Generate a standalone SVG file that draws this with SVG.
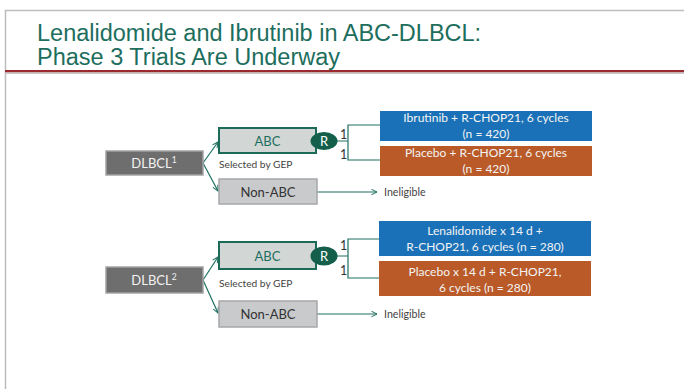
<svg xmlns="http://www.w3.org/2000/svg" width="684" height="389" viewBox="0 0 684 389">
  <style>
    .title { font-family: "Liberation Sans", Arial, sans-serif; font-size: 23.5px; fill: #1d6e5d; }
    .lbl { font-family: Lato, "Open Sans", sans-serif; }
    .dlbcl rect { fill: #6e6e6e; stroke: #a3a3a3; stroke-width: 1.5; }
    .dlbcl text { fill: #f2f2f2; font-size: 13px; text-anchor: middle; }
    .abc rect { fill: #d2d7d5; stroke: #1b6b58; stroke-width: 2; }
    .abc text { fill: #1d6e5d; font-size: 13px; text-anchor: middle; }
    .non rect { fill: #c9cacc; stroke: #a6a7a9; stroke-width: 1.5; }
    .non text { fill: #333; font-size: 13px; text-anchor: middle; }
    .rnd ellipse { fill: #145f4c; }
    .rnd text { fill: #fff; font-size: 13px; text-anchor: middle; }
    .arm text { fill: #f4f4f4; font-size: 12px; text-anchor: middle; }
    .blue { fill: #1a71b8; }
    .orange { fill: #b95a28; }
    .small { fill: #444; font-size: 10.2px; }
    .inel { fill: #444; font-size: 10.6px; }
    .ratio { fill: #333; font-size: 12.5px; }
    .conn { fill: none; stroke: #1e7060; stroke-width: 1.2; }
  </style>
  <defs>
    <marker id="chev" viewBox="0 0 10 10" refX="9" refY="5" markerWidth="7" markerHeight="7" markerUnits="userSpaceOnUse" orient="auto">
      <path d="M1,1 L9,5 L1,9" fill="none" stroke="#1e7060" stroke-width="1.4"/>
    </marker>
  </defs>

  <rect width="684" height="389" fill="#fff"/>

  <!-- slide frame and title -->
  <g id="frame">
    <path d="M684,10.5 H5.5 V389" fill="none" stroke="#bdbdbd" stroke-width="1.5"/>
    <rect x="5" y="70" width="679" height="2.5" fill="#9b2a2e"/>
    <rect x="5" y="72.5" width="679" height="1.5" fill="#c9c9c9"/>
    <text class="title" x="37" y="41">Lenalidomide and Ibrutinib in ABC-DLBCL:</text>
    <text class="title" x="37" y="65">Phase 3 Trials Are Underway</text>
  </g>

  <!-- connectors -->
  <g id="connectors">
    <path class="conn" d="M203,163 L218,142" marker-end="url(#chev)"/>
    <path class="conn" d="M203,163 L218,191" marker-end="url(#chev)"/>
    <path class="conn" d="M317,192 H377" marker-end="url(#chev)"/>
    <path class="conn" d="M337,141 H348 M380,125 H348 V160 H380"/>

    <path class="conn" d="M203,280 L218,257" marker-end="url(#chev)"/>
    <path class="conn" d="M203,280 L218,313" marker-end="url(#chev)"/>
    <path class="conn" d="M317,314 H377" marker-end="url(#chev)"/>
    <path class="conn" d="M337,256 H348 M380,239 H348 V278 H380"/>
  </g>

  <!-- trial 1 -->
  <g id="dlbcl1" class="lbl dlbcl">
    <rect x="106" y="151" width="97" height="24"/>
    <text x="154" y="167.5">DLBCL<tspan font-size="8.5" dy="-5">1</tspan></text>
  </g>
  <g id="abc1" class="lbl abc">
    <rect x="219" y="128" width="97" height="25"/>
    <text x="267.5" y="145.5">ABC</text>
  </g>
  <text class="lbl small" x="219" y="168">Selected by GEP</text>
  <g id="nonabc1" class="lbl non">
    <rect x="219" y="179" width="98" height="25"/>
    <text x="268" y="196.5">Non-ABC</text>
  </g>
  <g id="inelig1"><text class="lbl inel" x="384" y="195.5">Ineligible</text></g>
  <g id="rand1" class="lbl rnd">
    <ellipse cx="324" cy="141" rx="13.5" ry="9"/>
    <text x="324" y="145.5">R</text>
  </g>
  <text class="lbl ratio" x="340" y="138.5">1</text>
  <text class="lbl ratio" x="340" y="159">1</text>
  <g id="ibrutinib" class="lbl arm">
    <rect class="blue" x="380" y="111" width="212" height="30"/>
    <text x="486" y="122">Ibrutinib + R-CHOP21, 6 cycles</text>
    <text x="486" y="137.5">(n = 420)</text>
  </g>
  <g id="placebo1" class="lbl arm">
    <rect class="orange" x="380" y="146" width="212" height="30"/>
    <text x="486" y="157">Placebo + R-CHOP21, 6 cycles</text>
    <text x="486" y="172.5">(n = 420)</text>
  </g>

  <!-- trial 2 -->
  <g id="dlbcl2" class="lbl dlbcl">
    <rect x="106" y="267" width="97" height="26"/>
    <text x="154" y="284.5">DLBCL<tspan font-size="8.5" dy="-5">2</tspan></text>
  </g>
  <g id="abc2" class="lbl abc">
    <rect x="219" y="242" width="97" height="27"/>
    <text x="267.5" y="260.5">ABC</text>
  </g>
  <text class="lbl small" x="219" y="287">Selected by GEP</text>
  <g id="nonabc2" class="lbl non">
    <rect x="219" y="301" width="98" height="26"/>
    <text x="268" y="318.5">Non-ABC</text>
  </g>
  <g id="inelig2"><text class="lbl inel" x="384" y="317.5">Ineligible</text></g>
  <g id="rand2" class="lbl rnd">
    <ellipse cx="324" cy="256" rx="13.5" ry="9.5"/>
    <text x="324" y="260.5">R</text>
  </g>
  <text class="lbl ratio" x="340" y="249.5">1</text>
  <text class="lbl ratio" x="340" y="275">1</text>
  <g id="lenalidomide" class="lbl arm">
    <rect class="blue" x="379" y="221" width="212" height="35"/>
    <text x="485" y="235">Lenalidomide x 14 d +</text>
    <text x="485" y="251">R-CHOP21, 6 cycles (n = 280)</text>
  </g>
  <g id="placebo2" class="lbl arm">
    <rect class="orange" x="379" y="261" width="212" height="35"/>
    <text x="485" y="275.5">Placebo x 14 d + R-CHOP21,</text>
    <text x="485" y="291.5">6 cycles (n = 280)</text>
  </g>
</svg>
